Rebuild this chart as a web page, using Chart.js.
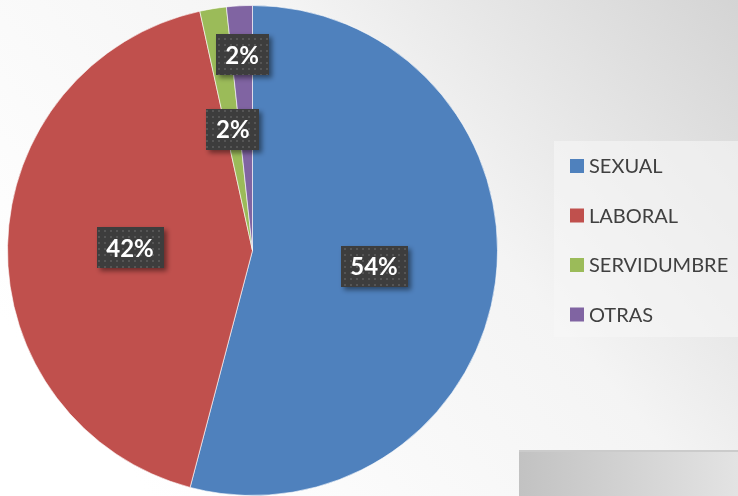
<!DOCTYPE html>
<html>
<head>
<meta charset="utf-8">
<script src="https://cdn.jsdelivr.net/npm/chart.js@4/dist/chart.umd.min.js"></script>
<style>
html,body{margin:0;padding:0;background:#fff;}
#wrap{width:738px;height:496px;position:relative;}
</style>
</head>
<body>
<div id="wrap"><canvas id="c" width="738" height="496"></canvas></div>
<script>
const categories = ["SEXUAL", "LABORAL", "SERVIDUMBRE", "OTRAS"];
const values = [54.1, 42.45, 1.75, 1.7];
const colors = ["#4f81bd", "#c0504d", "#9bbb59", "#8064a2"];

function makePattern(ctx) {
  const p = document.createElement('canvas');
  p.width = 6; p.height = 6;
  const pc = p.getContext('2d');
  pc.fillStyle = '#3d3d3d';
  pc.fillRect(0, 0, 6, 6);
  pc.fillStyle = '#555555';
  pc.fillRect(2, 2, 2, 2);
  return ctx.createPattern(p, 'repeat');
}

const bgPlugin = {
  id: 'bg',
  beforeDraw(chart) {
    const ctx = chart.ctx;
    const W = chart.width, H = chart.height;
    ctx.save();
    const g = ctx.createLinearGradient(150, 496, 738, 0);
    g.addColorStop(0, '#ffffff');
    g.addColorStop(0.55, '#f4f4f4');
    g.addColorStop(1, '#d4d4d4');
    ctx.fillStyle = g;
    ctx.fillRect(0, 0, W, H);
    // legend panel
    ctx.fillStyle = 'rgba(246,246,246,0.6)';
    ctx.fillRect(554, 141, 184, 196);
    // bottom-right box
    const g2 = ctx.createLinearGradient(519, 0, 738, 0);
    g2.addColorStop(0, '#c2c2c2');
    g2.addColorStop(1, '#e3e3e3');
    ctx.fillStyle = g2;
    ctx.fillRect(519, 451, 219, 45);
    ctx.fillStyle = '#cbcbcb';
    ctx.fillRect(519, 450, 219, 2);
    ctx.restore();
  }
};

const labelPlugin = {
  id: 'boxLabels',
  afterDatasetsDraw(chart, args, opts) {
    const ctx = chart.ctx;
    const meta = chart.getDatasetMeta(0);
    const ds = chart.data.datasets[0];
    const total = ds.data.reduce((a, b) => a + b, 0);
    const pat = makePattern(ctx);
    ctx.save();
    ctx.font = 'bold 24px Lato, "Open Sans", sans-serif';
    ctx.textAlign = 'center';
    ctx.textBaseline = 'middle';
    meta.data.forEach((arc, i) => {
      const p = arc.getProps(['x', 'y', 'startAngle', 'endAngle', 'outerRadius'], true);
      const mid = (p.startAngle + p.endAngle) / 2;
      const f = opts.radiusFactor[i];
      const cx = p.x + Math.cos(mid) * p.outerRadius * f;
      const cy = p.y + Math.sin(mid) * p.outerRadius * f;
      const txt = Math.round(ds.data[i] / total * 100) + '%';
      const tw = ctx.measureText(txt).width;
      const bw = tw + 19, bh = 41;
      ctx.save();
      ctx.shadowColor = 'rgba(0,0,0,0.45)';
      ctx.shadowBlur = 5;
      ctx.shadowOffsetX = 3;
      ctx.shadowOffsetY = 3;
      ctx.fillStyle = pat;
      ctx.fillRect(Math.round(cx - bw / 2), Math.round(cy - bh / 2), Math.round(bw), bh);
      ctx.restore();
      ctx.fillStyle = '#ffffff';
      ctx.fillText(txt, cx, cy + 1);
    });
    ctx.restore();
  }
};

const legendPlugin = {
  id: 'customLegend',
  afterDraw(chart) {
    const ctx = chart.ctx;
    ctx.save();
    ctx.font = '20px Lato, "Open Sans", sans-serif';
    ctx.textBaseline = 'middle';
    ctx.textAlign = 'left';
    chart.data.labels.forEach((lab, i) => {
      const y = 166 + i * 49.5;
      ctx.fillStyle = chart.data.datasets[0].backgroundColor[i];
      ctx.fillRect(570, y - 7, 14, 14);
      ctx.fillStyle = '#404040';
      ctx.fillText(lab, 589, y + 1);
    });
    ctx.restore();
  }
};

new Chart(document.getElementById('c'), {
  type: 'pie',
  data: {
    labels: categories,
    datasets: [{
      data: values,
      backgroundColor: colors,
      borderColor: 'rgba(255,255,255,0.6)',
      borderWidth: 1
    }]
  },
  options: {
    responsive: false,
    animation: false,
    events: [],
    layout: { padding: { left: 7, top: 5, right: 240, bottom: 0 } },
    plugins: {
      legend: { display: false },
      tooltip: { enabled: false },
      boxLabels: {
        radiusFactor: [0.5, 0.5, 0.5, 0.8]
      }
    }
  },
  plugins: [bgPlugin, labelPlugin, legendPlugin]
});
</script>
</body>
</html>
